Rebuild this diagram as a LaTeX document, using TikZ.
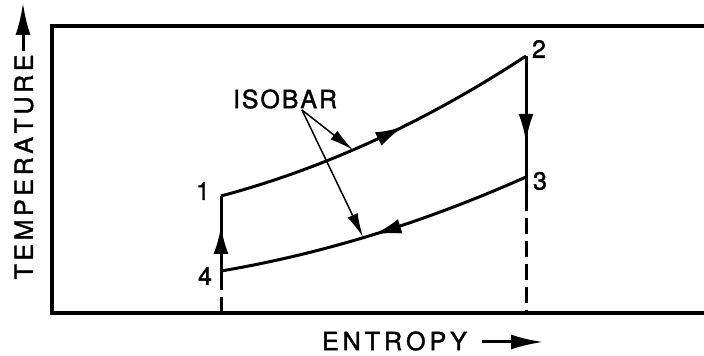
\documentclass[tikz,border=0pt]{standalone}
\usepackage{fontspec}
\setmainfont{TeX Gyre Heros}[FakeBold=1.5]
\usetikzlibrary{arrows.meta,decorations.markings}
\makeatletter
\newcommand\lspaced[2]{\def\ls@amt{#1}\ls@loop#2\relax\kern-\ls@amt\relax}
\def\ls@loop#1{\ifx\relax#1\else#1\kern\ls@amt\relax\expandafter\ls@loop\fi}
\makeatother
\tikzset{
  lbl/.style={font=\fontsize{25}{30}\selectfont, inner sep=0pt},
  frame/.style={line width=3.2pt, line join=miter},
  cycle/.style={line width=3pt},
  midarrow/.style={postaction={decorate,decoration={markings,
      mark=at position #1 with {\arrow{Latex[length=28pt,width=15pt]}}}}},
  leader/.style={line width=1.5pt, -{Latex[length=24pt,width=11pt]}},
  axisarrow/.style={line width=3pt, -{Latex[length=32pt,width=15pt]}},
  dashline/.style={line width=3pt, dash pattern=on 16pt off 7pt},
}
\begin{document}
\begin{tikzpicture}[x=1pt,y=1pt]
\useasboundingbox (0,0) rectangle (704,356);
% frame
\draw[frame] (712,330) -- (52,330) -- (52,43) -- (712,43);
% cycle points
\coordinate (p1) at (221,160);
\coordinate (p2) at (526,300);
\coordinate (p3) at (526,179);
\coordinate (p4) at (221,85);
\coordinate (l4) at (221,66);
\coordinate (d4a) at (221,59);
\coordinate (d4b) at (221,43);
\coordinate (l3) at (526,161);
\coordinate (d3) at (526,43);
% isobars
\draw[cycle, midarrow=0.58] (p1) .. controls (322,187) and (424,233) .. (p2);
\draw[cycle, midarrow=0.51] (p3) .. controls (424,133.5) and (322,102) .. (p4);
% verticals
\draw[cycle, midarrow=0.6] (p4) -- (p1);
\draw[cycle, midarrow=0.71] (p2) -- (p3);
\draw[cycle] (p3) -- (l3);
\draw[cycle] (p4) -- (l4);
\draw[dashline] (l3) -- (d3);
\draw[cycle] (d4a) -- (d4b);
% labels
\node[lbl] (n1) at (203,165) {1};
\node[lbl] (n2) at (539,307) {2};
\node[lbl] (n3) at (540,175) {3};
\node[lbl] (n4) at (205,80) {4};
\node[lbl] (iso) at (285,257) {\lspaced{1.9pt}{ISOBAR}};
\coordinate (isofoot) at (302,246);
\coordinate (u1) at (353,206);
\coordinate (u2) at (363,119);
\draw[leader] (isofoot) -- (u1);
\draw[leader] (isofoot) -- (u2);
% axes labels
\node[lbl] (ent) at (394.5,15) {\lspaced{4pt}{ENTROPY}};
\coordinate (ea) at (482,14);
\coordinate (eb) at (543,14);
\draw[axisarrow] (ea) -- (eb);
\node[lbl, rotate=90] (temp) at (24,189) {\lspaced{3.6pt}{TEMPERATURE}};
\coordinate (ta) at (23,305);
\coordinate (tb) at (23,353);
\draw[axisarrow] (ta) -- (tb);
\end{tikzpicture}
\end{document}
